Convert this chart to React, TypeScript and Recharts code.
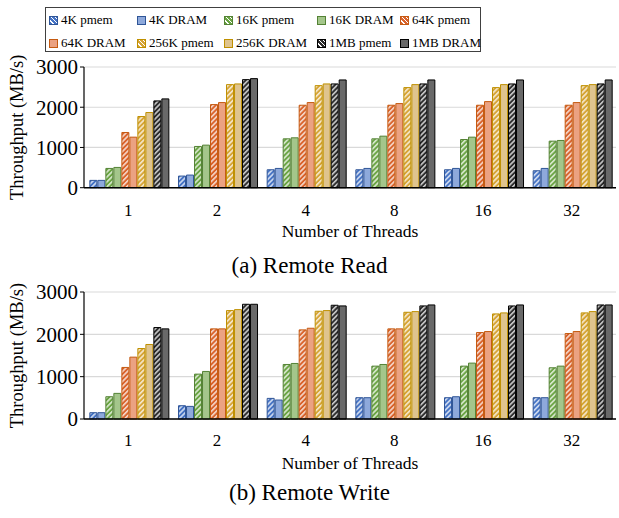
import { BarChart, Bar, XAxis, YAxis, CartesianGrid, Label } from 'recharts'

const threads = ['1', '2', '4', '8', '16', '32']
const seriesNames = [
  '4K pmem', '4K DRAM', '16K pmem', '16K DRAM', '64K pmem',
  '64K DRAM', '256K pmem', '256K DRAM', '1MB pmem', '1MB DRAM',
]
const yTicks = [0, 1000, 2000, 3000]

// Remote read (MB/s)
const read4kPmem = [182, 289, 446, 446, 446, 421]
const read4kDram = [182, 314, 479, 479, 479, 479]
const read16kPmem = [479, 1025, 1215, 1215, 1198, 1157]
const read16kDram = [504, 1058, 1240, 1281, 1256, 1174]
const read64kPmem = [1372, 2066, 2050, 2050, 2050, 2050]
const read64kDram = [1256, 2116, 2116, 2091, 2140, 2116]
const read256kPmem = [1769, 2562, 2537, 2488, 2488, 2537]
const read256kDram = [1868, 2579, 2579, 2562, 2562, 2562]
const read1mPmem = [2157, 2686, 2579, 2579, 2579, 2579]
const read1mDram = [2207, 2711, 2678, 2678, 2678, 2678]

// Remote write (MB/s)
const write4kPmem = [149, 314, 487, 503, 503, 503]
const write4kDram = [149, 298, 448, 503, 526, 503]
const write16kPmem = [526, 1060, 1288, 1249, 1249, 1210]
const write16kDram = [605, 1123, 1312, 1288, 1320, 1249]
const write64kPmem = [1218, 2129, 2105, 2129, 2042, 2019]
const write64kDram = [1461, 2129, 2144, 2129, 2066, 2066]
const write256kPmem = [1665, 2561, 2545, 2521, 2482, 2506]
const write256kDram = [1760, 2584, 2561, 2537, 2506, 2537]
const write1mPmem = [2160, 2710, 2687, 2671, 2671, 2694]
const write1mDram = [2129, 2710, 2671, 2694, 2694, 2694]

const readSeries = [read4kPmem, read4kDram, read16kPmem, read16kDram, read64kPmem, read64kDram, read256kPmem, read256kDram, read1mPmem, read1mDram]
const writeSeries = [write4kPmem, write4kDram, write16kPmem, write16kDram, write64kPmem, write64kDram, write256kPmem, write256kDram, write1mPmem, write1mDram]

// per size: hatch base, solid fill, border
const SIZES = [
  { key: '4k', base: '#4472c4', solid: '#8ea9db', stroke: '#2f5597' },
  { key: '16k', base: '#6aa443', solid: '#a4c68b', stroke: '#548235' },
  { key: '64k', base: '#d9622b', solid: '#eba282', stroke: '#c55a11' },
  { key: '256k', base: '#d6a436', solid: '#dfc48e', stroke: '#bf9000' },
  { key: '1m', base: '#2b2b2b', solid: '#696969', stroke: '#000000' },
]

const FONT = '"Liberation Serif", "Times New Roman", serif'

function buildRows(series: number[][]) {
  return threads.map((t, i) => {
    const row: Record<string, number | string> = { threads: t }
    seriesNames.forEach((name, s) => { row[name] = series[s][i] })
    return row
  })
}

function Patterns({ prefix }: { prefix: string }) {
  return (
    <defs>
      {SIZES.map(c => (
        <pattern key={c.key} id={`${prefix}-${c.key}`} width={3.5} height={3.5}
          patternUnits="userSpaceOnUse" patternTransform="rotate(45)">
          <rect width={3.5} height={3.5} fill={c.base} />
          <rect width={1.6} height={3.5} fill="#ffffff" opacity={0.75} />
        </pattern>
      ))}
    </defs>
  )
}

function ThroughputChart({ series, prefix, height, xAxisHeight, tickGap }: {
  series: number[][]; prefix: string; height: number; xAxisHeight: number; tickGap: number
}) {
  const data = buildRows(series)
  return (
    <BarChart width={619} height={height} data={data}
      margin={{ top: 12, right: 3, bottom: 0, left: 0 }}
      barCategoryGap="6.6%" barGap={1}>
      <Patterns prefix={prefix} />
      <CartesianGrid vertical={false} stroke="#d9d9d9" strokeWidth={1.2} />
      <XAxis dataKey="threads" height={xAxisHeight} tickLine={false}
        axisLine={{ stroke: '#000', strokeWidth: 1.5 }} tickMargin={tickGap}
        tick={{ fill: '#000', fontSize: 17, fontFamily: FONT }}>
        <Label value="Number of Threads" position="insideBottom" offset={8}
          style={{ fill: '#000', fontSize: 17.5, fontFamily: FONT }} />
      </XAxis>
      <XAxis xAxisId="top" orientation="top" dataKey="threads" height={0}
        tick={false} tickLine={false} axisLine={{ stroke: '#7f7f7f', strokeWidth: 1.5 }} />
      <YAxis width={84} domain={[0, 3000]} ticks={yTicks} interval={0}
        axisLine={{ stroke: '#000', strokeWidth: 1.2 }} tickLine={{ stroke: '#000' }} tickSize={4}
        tickMargin={2} tick={{ fill: '#000', fontSize: 21, fontFamily: FONT }}>
        <Label value="Throughput (MB/s)" angle={-90} position="insideLeft" offset={16}
          style={{ fill: '#000', fontSize: 18.5, fontFamily: FONT, textAnchor: 'middle' }} />
      </YAxis>
      <YAxis yAxisId="right" orientation="right" width={0} domain={[0, 3000]}
        tick={false} tickLine={false} axisLine={{ stroke: '#7f7f7f', strokeWidth: 1.5 }} />
      {seriesNames.map((name, s) => {
        const c = SIZES[Math.floor(s / 2)]
        const pmem = s % 2 === 0
        return (
          <Bar key={name} dataKey={name} isAnimationActive={false}
            fill={pmem ? `url(#${prefix}-${c.key})` : c.solid}
            stroke={c.stroke} strokeWidth={1} />
        )
      })}
    </BarChart>
  )
}

function LegendBox() {
  const colX = [0, 88, 175, 268, 351]
  return (
    <div style={{
      position: 'absolute', left: 45, top: 7, width: 434, height: 43,
      border: '1.5px solid #404040', fontFamily: FONT, fontSize: 13, color: '#000',
    }}>
      {seriesNames.map((name, s) => {
        const c = SIZES[Math.floor(s / 2)]
        const pmem = s % 2 === 0
        const row = s < 5 ? 0 : 1
        const col = s % 5
        return (
          <div key={name} style={{
            position: 'absolute', left: 3 + colX[col], top: 2 + row * 23, height: 20,
            display: 'flex', alignItems: 'center', whiteSpace: 'nowrap',
          }}>
            <span style={{
              display: 'inline-block', width: 7, height: 7, marginRight: 3,
              border: `1px solid ${c.stroke}`,
              background: pmem
                ? `repeating-linear-gradient(45deg, ${c.base} 0 2px, #ffffff 2px 3px)`
                : c.solid,
            }} />
            {name}
          </div>
        )
      })}
    </div>
  )
}

const captionStyle = {
  position: 'absolute' as const, left: 0, width: 619, textAlign: 'center' as const,
  fontFamily: FONT, fontSize: 23, color: '#000',
}

export default function App() {
  return (
    <div style={{ position: 'absolute', left: 0, top: 0, width: 619, height: 518, background: '#fff' }}>
      <LegendBox />
      <div style={{ position: 'absolute', left: 0, top: 55 }}>
        <ThroughputChart series={readSeries} prefix="rd" height={190} xAxisHeight={57.3} tickGap={10} />
      </div>
      <div style={{ ...captionStyle, top: 253 }}>(a) Remote Read</div>
      <div style={{ position: 'absolute', left: 0, top: 280 }}>
        <ThroughputChart series={writeSeries} prefix="wr" height={197} xAxisHeight={58} tickGap={9} />
      </div>
      <div style={{ ...captionStyle, top: 480 }}>(b) Remote Write</div>
    </div>
  )
}
